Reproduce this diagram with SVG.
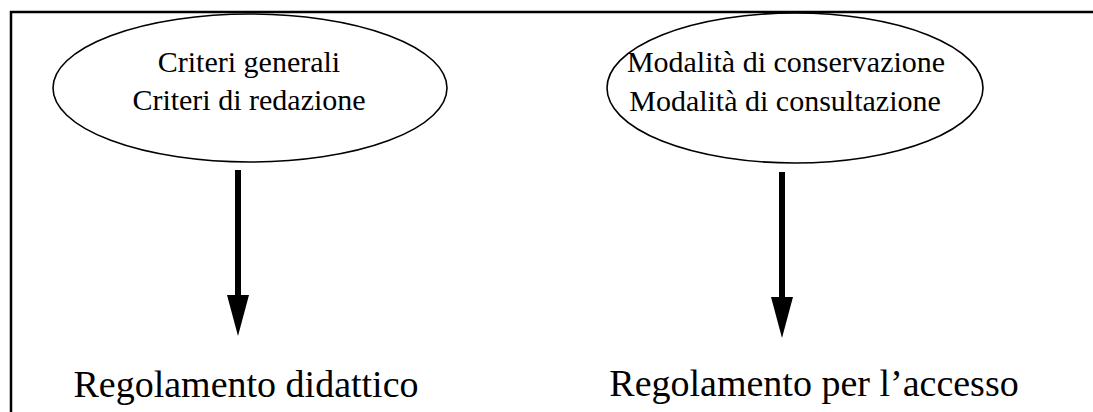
<svg xmlns="http://www.w3.org/2000/svg" width="1093" height="412" viewBox="0 0 1093 412">
<style>
.t{font-family:"Liberation Serif","Times New Roman",serif;fill:#000}
.s{font-size:30px}
.b{font-size:38px}
.e{fill:none;stroke:#000;stroke-width:1.6}
.c{stroke:#000;stroke-width:6;fill:none;marker-end:url(#ah)}
</style>
<defs>
<marker id="ah" markerUnits="userSpaceOnUse" markerWidth="41" markerHeight="22" refX="0" refY="11" viewBox="0 0 41 22" orient="auto">
<path d="M0,0 L41,11 L0,22 Z" fill="#000"/>
</marker>
</defs>
<rect width="1093" height="412" fill="#fff"/>
<g id="frame">
<path d="M11 412 V12 H1093" fill="none" stroke="#000" stroke-width="2.5"/>
</g>
<g id="n1">
<ellipse class="e" cx="250" cy="88" rx="197" ry="74"/>
<text class="t s" x="249" y="72" text-anchor="middle">Criteri generali</text>
<text class="t s" x="249" y="110" text-anchor="middle">Criteri di redazione</text>
</g>
<g id="n2">
<ellipse class="e" cx="795" cy="88" rx="188" ry="75"/>
<text class="t s" x="786" y="72" text-anchor="middle">Modalità di conservazione</text>
<text class="t s" x="785" y="111" text-anchor="middle">Modalità di consultazione</text>
</g>
<g id="n3">
<text class="t b" x="246" y="397" text-anchor="middle">Regolamento didattico</text>
</g>
<g id="n4">
<text class="t b" x="814" y="396" text-anchor="middle">Regolamento per l’accesso</text>
</g>
<g id="connectors">
<line class="c" x1="238" y1="170" x2="238" y2="295"/>
<line class="c" x1="782" y1="172" x2="782" y2="297"/>
</g>
</svg>
